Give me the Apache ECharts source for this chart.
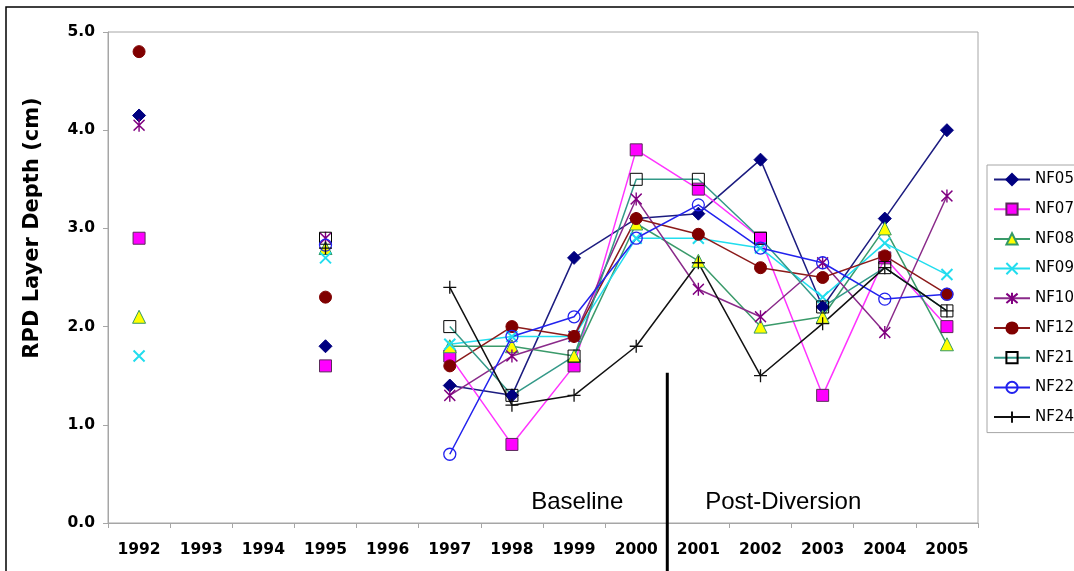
<!DOCTYPE html>
<html>
<head>
<meta charset="utf-8">
<script src="https://cdn.jsdelivr.net/npm/echarts@6/dist/echarts.min.js"></script>
<style>
  html, body { margin: 0; padding: 0; background: #ffffff; }
  #chart { width: 1074px; height: 571px; }
</style>
</head>
<body>
<div id="chart"></div>
<script>
// Sampling years (category axis)
const years = ['1992','1993','1994','1995','1996','1997','1998','1999','2000','2001','2002','2003','2004','2005'];
const yTickLabels = ['0.0','1.0','2.0','3.0','4.0','5.0'];

// RPD layer depth (cm) per station; null = not sampled
const NF05 = [4.15, null, null, 1.8, null, 1.4, 1.3, 2.7, 3.1, 3.15, 3.7, 2.2, 3.1, 4.0];
const NF07 = [2.9, null, null, 1.6, null, 1.7, 0.8, 1.6, 3.8, 3.4, 2.9, 1.3, 2.7, 2.0];
const NF08 = [2.1, null, null, 2.8, null, 1.8, 1.8, 1.7, 3.05, 2.67, 2.0, 2.1, 3.0, 1.82];
const NF09 = [1.7, null, null, 2.7, null, 1.82, 1.9, 1.9, 2.9, 2.9, 2.8, 2.3, 2.85, 2.53];
const NF10 = [4.05, null, null, 2.9, null, 1.3, 1.7, 1.9, 3.3, 2.38, 2.1, 2.65, 1.94, 3.33];
const NF12 = [4.8, null, null, 2.3, null, 1.6, 2.0, 1.9, 3.1, 2.94, 2.6, 2.5, 2.72, 2.33];
const NF21 = [null, null, null, 2.9, null, 2.0, 1.3, 1.7, 3.5, 3.5, 2.9, 2.2, 2.6, 2.16];
const NF22 = [null, null, null, 2.83, null, 0.7, 1.9, 2.1, 2.9, 3.24, 2.8, 2.65, 2.28, 2.33];
const NF24 = [null, null, null, 2.8, null, 2.4, 1.2, 1.3, 1.8, 2.65, 1.5, 2.03, 2.6, 2.16];

// Period split: last baseline year / first post-diversion year
const baselineEnd = '2000';
const postStart = '2001';
const periodLabels = ['Baseline', 'Post-Diversion'];

const X_PATH = 'path://M0,0L10,10M10,0L0,10';
const STAR_PATH = 'path://M0,1L10,11M10,1L0,11M5,0L5,12';
const PLUS_PATH = 'path://M6,0L6,12M0,6L12,6';

const seriesDefs = [
  { name: 'NF05', data: NF05, line: '#1c1c80', symbol: 'diamond', size: 13, fill: '#000080', border: '#000080', bw: 1 },
  { name: 'NF07', data: NF07, line: '#ff33ff', symbol: 'rect', size: 12, fill: '#ff00ff', border: '#5a2a5a', bw: 1 },
  { name: 'NF08', data: NF08, line: '#3a9a6a', symbol: 'triangle', size: 13, fill: '#ffff00', border: '#339966', bw: 1 },
  { name: 'NF09', data: NF09, line: '#22ddee', symbol: X_PATH, size: 11, fill: 'transparent', border: '#22ddee', bw: 2 },
  { name: 'NF10', data: NF10, line: '#8a2a8a', symbol: STAR_PATH, size: [11, 13], fill: 'transparent', border: '#800080', bw: 1.5 },
  { name: 'NF12', data: NF12, line: '#8b1a1a', symbol: 'circle', size: 12, fill: '#800000', border: '#800000', bw: 1 },
  { name: 'NF21', data: NF21, line: '#339988', symbol: 'rect', size: 12, fill: 'transparent', border: '#000000', bw: 1 },
  { name: 'NF22', data: NF22, line: '#2222ee', symbol: 'circle', size: 12, fill: 'transparent', border: '#2222ee', bw: 1.3 },
  { name: 'NF24', data: NF24, line: '#111111', symbol: PLUS_PATH, size: 13, fill: 'transparent', border: '#111111', bw: 1.3 }
];

const AXIS_FONT = { fontFamily: 'DejaVu Sans', fontWeight: 'bold', fontSize: 15.5, color: '#000' };

const chart = echarts.init(document.getElementById('chart'), null, { renderer: 'canvas' });

const option = {
  animation: false,
  backgroundColor: '#ffffff',
  grid: {
    left: 108, right: 96, top: 32, bottom: 48,
    show: true, borderColor: '#a6a6a6', borderWidth: 1, backgroundColor: '#ffffff',
    outerBoundsMode: 'none'
  },
  legend: {
    orient: 'vertical',
    left: 987, top: 165,
    padding: [7, 40, 8, 6],
    itemWidth: 36, itemHeight: 14, itemGap: 14.7,
    borderColor: '#a6a6a6', borderWidth: 1, backgroundColor: '#ffffff',
    textStyle: { fontFamily: 'DejaVu Sans', fontSize: 15, color: '#000', lineHeight: 15 },
    data: seriesDefs.map(s => s.name)
  },
  xAxis: {
    type: 'category',
    data: years,
    boundaryGap: true,
    axisLine: { show: true, lineStyle: { color: '#a6a6a6', width: 1 } },
    axisTick: { show: true, length: 5, interval: 0, lineStyle: { color: '#a6a6a6' } },
    axisLabel: Object.assign({ interval: 0, margin: 19 }, AXIS_FONT),
    splitLine: { show: false }
  },
  yAxis: {
    type: 'value',
    min: 0, max: 5, interval: 1,
    axisLine: { show: true, lineStyle: { color: '#a6a6a6', width: 1 } },
    axisTick: { show: true, length: 5, lineStyle: { color: '#a6a6a6' } },
    axisLabel: Object.assign({ margin: 13, formatter: (v) => yTickLabels[Math.round(v)] }, AXIS_FONT),
    splitLine: { show: false }
  },
  series: seriesDefs.map(s => ({
    name: s.name,
    type: 'line',
    data: s.data,
    connectNulls: false,
    symbol: s.symbol,
    symbolSize: s.size,
    showAllSymbol: true,
    clip: false,
    lineStyle: { color: s.line, width: 1.5 },
    itemStyle: { color: s.fill, borderColor: s.border, borderWidth: s.bw },
    emphasis: { disabled: true }
  }))
};

chart.setOption(option);

// Period divider and labels, placed from the axis scales
const xEnd = chart.convertToPixel({ xAxisIndex: 0 }, baselineEnd);
const xStart = chart.convertToPixel({ xAxisIndex: 0 }, postStart);
const xDiv = (xEnd + xStart) / 2;
const yDivTop = chart.convertToPixel({ yAxisIndex: 0 }, 1.53);
const yText = chart.convertToPixel({ yAxisIndex: 0 }, 0.21);

chart.setOption({
  graphic: [
    // outer chart frame
    { type: 'rect', shape: { x: 6, y: 7, width: 1200, height: 700 }, style: { fill: 'none', stroke: '#000', lineWidth: 1.5 }, silent: true, z: 100 },
    // y-axis title
    { type: 'text', x: 33, y: 228, rotation: Math.PI / 2,
      style: { text: 'RPD Layer Depth (cm)', font: 'bold 21px "DejaVu Sans"', fill: '#000', align: 'center', verticalAlign: 'middle' }, z: 100 },
    // baseline / post-diversion divider
    { type: 'line', shape: { x1: xDiv, y1: yDivTop, x2: xDiv, y2: 580 }, style: { stroke: '#000', lineWidth: 3 }, z: 100 },
    { type: 'text', x: xDiv - 90, y: yText,
      style: { text: periodLabels[0], font: '24px "Liberation Sans"', fill: '#000', align: 'center', verticalAlign: 'middle' }, z: 100 },
    { type: 'text', x: xDiv + 116, y: yText,
      style: { text: periodLabels[1], font: '24px "Liberation Sans"', fill: '#000', align: 'center', verticalAlign: 'middle' }, z: 100 }
  ]
});
</script>
</body>
</html>
